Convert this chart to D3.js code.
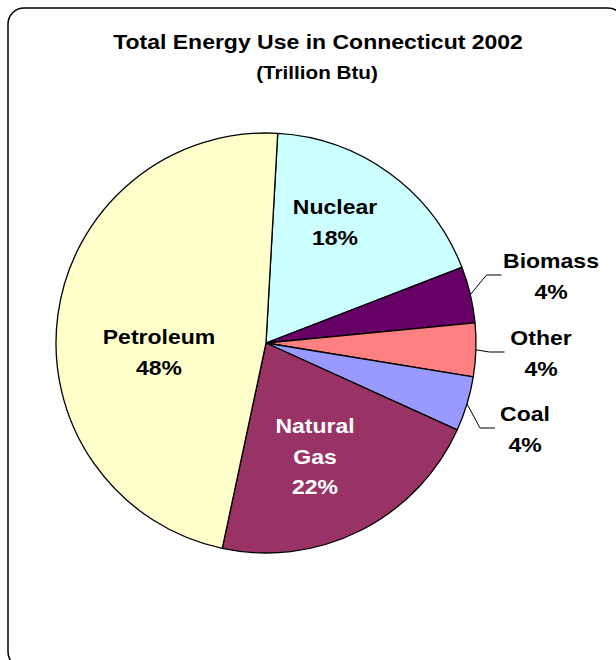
<!DOCTYPE html>
<html>
<head>
<meta charset="utf-8">
<script src="https://cdn.jsdelivr.net/npm/d3@7/dist/d3.min.js"></script>
<style>
  html, body { margin: 0; padding: 0; background: #fff; }
  svg { display: block; }
  text { font-family: "Liberation Sans", Arial, sans-serif; font-weight: bold; }
</style>
</head>
<body>
<svg id="chart" width="616" height="660"></svg>
<script>
// Energy use by source, Connecticut 2002 (trillion Btu), clockwise from the top
const categories = ["Nuclear", "Biomass", "Other", "Coal", "Natural Gas", "Petroleum"];
const values = [160, 38, 36, 37, 189, 417];
const colors = ["#CCFFFF", "#660066", "#FF8080", "#9999FF", "#993366", "#FFFFCC"];
const labelLines = [["Nuclear"], ["Biomass"], ["Other"], ["Coal"], ["Natural", "Gas"], ["Petroleum"]];

const titleText = "Total Energy Use in Connecticut 2002";
const subtitleText = "(Trillion Btu)";

// Layout
const cx = 266, cy = 343, radius = 210;
const startAngle = 3.2 * Math.PI / 180;
const stretch = 1.15;        // labels are drawn slightly wide
const lineGap = 30.5;

// Label anchors (first baseline); outside labels get an elbow leader line
const labelLayout = {
  "Nuclear":     { x: 335, y: 214, fill: "#000", outside: false },
  "Biomass":     { x: 551, y: 268, fill: "#000", outside: true },
  "Other":       { x: 541, y: 345, fill: "#000", outside: true },
  "Coal":        { x: 525, y: 421, fill: "#000", outside: true },
  "Natural Gas": { x: 315, y: 433, fill: "#fff", outside: false },
  "Petroleum":   { x: 159, y: 344, fill: "#000", outside: false }
};

const svg = d3.select("#chart");

// Rounded frame, running past the right and bottom edges
svg.append("rect")
  .attr("x", 8).attr("y", 8)
  .attr("width", 616).attr("height", 660)
  .attr("rx", 16).attr("ry", 16)
  .attr("fill", "#fff")
  .attr("stroke", "#000")
  .attr("stroke-width", 1.5);

// Titles
svg.append("text")
  .attr("transform", `translate(318,49) scale(${stretch},1)`)
  .attr("text-anchor", "middle")
  .attr("font-size", 20)
  .text(titleText);
svg.append("text")
  .attr("transform", `translate(317,79) scale(${stretch},1)`)
  .attr("text-anchor", "middle")
  .attr("font-size", 18)
  .text(subtitleText);

const total = d3.sum(values);
const data = categories.map((c, i) => ({ name: c, value: values[i], color: colors[i], lines: labelLines[i] }));

const pie = d3.pie()
  .value(d => d.value)
  .sort(null)
  .startAngle(startAngle)
  .endAngle(startAngle + 2 * Math.PI);

const arc = d3.arc().innerRadius(0).outerRadius(radius);

const g = svg.append("g").attr("transform", `translate(${cx},${cy})`);
const arcs = pie(data);

g.selectAll("path.slice")
  .data(arcs)
  .join("path")
  .attr("class", "slice")
  .attr("d", arc)
  .attr("fill", d => d.data.color)
  .attr("stroke", "#000")
  .attr("stroke-width", 1.3)
  .attr("stroke-linejoin", "round");

// Leader lines for the small outside slices
arcs.forEach(a => {
  const L = labelLayout[a.data.name];
  if (!L.outside) return;
  const mid = (a.startAngle + a.endAngle) / 2;
  const px = cx + radius * Math.sin(mid);
  const py = cy - radius * Math.cos(mid);
  const textW = a.data.lines[0].length * 11.3 * stretch; // rough width of first line
  const endX = L.x - textW / 2 - 4;
  const yLine = L.y + 7;
  const elbowX = endX - 15;
  svg.append("polyline")
    .attr("points", `${px},${py} ${elbowX},${yLine} ${endX},${yLine}`)
    .attr("fill", "none")
    .attr("stroke", "#000")
    .attr("stroke-width", 1);
});

// Slice labels: name lines plus rounded percentage
arcs.forEach(a => {
  const L = labelLayout[a.data.name];
  const pct = Math.round(a.data.value / total * 100) + "%";
  const lines = a.data.lines.concat([pct]);
  lines.forEach((t, i) => {
    svg.append("text")
      .attr("transform", `translate(${L.x},${L.y + i * lineGap}) scale(${stretch},1)`)
      .attr("text-anchor", "middle")
      .attr("font-size", 20)
      .attr("fill", L.fill)
      .text(t);
  });
});
</script>
</body>
</html>
